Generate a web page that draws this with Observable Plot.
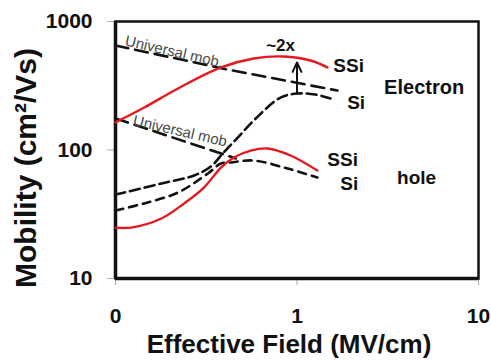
<!DOCTYPE html>
<html><head><meta charset="utf-8">
<script src="https://cdn.jsdelivr.net/npm/d3@7"></script>
<script src="https://cdn.jsdelivr.net/npm/@observablehq/plot@0.6"></script>
<style>
body{margin:0;background:#fff}
#chart svg{font-family:"Liberation Sans",Arial,sans-serif;background:#fff}
</style>
</head><body><div id="chart"></div>
<script>
// axis ticks
const xTicks = [0.1, 1, 10];
const xTickLabels = ["0", "1", "10"];
const yTicks = [10, 100, 1000];
const yTickLabels = ["10", "100", "1000"];

// Electron – universal mobility (dashed)
const eUnivField = [0.1, 0.406, 1.67];
const eUnivMob = [651, 425, 290];
// Electron – strained Si (red)
const eSSiField = [0.1, 0.144, 0.221, 0.381, 0.578, 0.843, 1.186, 1.47];
const eSSiMob = [164, 214, 301, 439, 515, 534, 497, 439];
// Electron – Si (dash)
const eSiField = [0.1, 0.112, 0.179, 0.271, 0.336, 0.39, 0.472, 0.593, 0.812, 1.006, 1.26, 1.53];
const eSiMob = [45, 46.7, 54.9, 63.3, 74.5, 94, 125, 176, 256, 275, 270, 252];
// Hole – universal mobility (dashed)
const hUnivField = [0.1, 0.46];
const hUnivMob = [176, 86];
// Hole – strained Si (red)
const hSSiField = [0.1, 0.122, 0.179, 0.239, 0.307, 0.381, 0.449, 0.556, 0.689, 0.921, 1.295];
const hSSiMob = [24.9, 24.9, 29.3, 38.4, 51, 73, 87.5, 99, 102.8, 90.6, 69.2];
// Hole – Si (dash)
const hSiField = [0.1, 0.144, 0.221, 0.323, 0.381, 0.432, 0.578, 0.887, 1.295];
const hSiMob = [33.8, 38.4, 46.7, 65.7, 78.5, 80, 82.8, 71.8, 61.1];

// ~2x arrow
const arrowField = [1.0];
const arrowFrom = [275];
const arrowTo = [480];

// annotations
const labelText = ["SSi", "Si", "Electron", "SSi", "Si", "hole"];
const labelField = [1.585, 1.89, 3.02, 1.47, 1.73, 3.56];
const labelMob = [450, 234, 306, 83.6, 54.3, 61];
const univText = ["Universal mob.", "Universal mob."];
const univField = [0.1134, 0.1255];
const univMob = [711, 170];
const twoXText = ["~2x"];
const twoXField = [0.812];
const twoXMob = [650];

const pts = (xs, ys) => xs.map((x, i) => ({x, y: ys[i]}));
const xLab = new Map(xTicks.map((t, i) => [t, xTickLabels[i]]));
const yLab = new Map(yTicks.map((t, i) => [t, yTickLabels[i]]));
const RED = "#e3191f";

const chart = Plot.plot({
  width: 491,
  height: 362,
  marginLeft: 115,
  marginRight: 13,
  marginTop: 21,
  marginBottom: 84,
  x: {type: "log", domain: [0.1, 10]},
  y: {type: "log", domain: [10, 1000]},
  marks: [
    Plot.axisX({ticks: xTicks, tickFormat: d => xLab.get(d), tickSize: 7, tickPadding: 23,
      stroke: "#aaa", fill: "#111", fontSize: 21, fontWeight: "bold", label: null}),
    Plot.axisY({ticks: yTicks, tickFormat: d => yLab.get(d), tickSize: 8, tickPadding: 15,
      stroke: "#aaa", fill: "#111", fontSize: 21, fontWeight: "bold", label: null}),
    Plot.frame({stroke: "#111", strokeWidth: 2.5}),
    Plot.ruleX([0.1], {stroke: "#111", strokeWidth: 3.5}),
    Plot.ruleY([10], {stroke: "#111", strokeWidth: 3.5}),
    Plot.line(pts(eUnivField, eUnivMob), {x: "x", y: "y", stroke: "#111", strokeWidth: 2.6, strokeDasharray: "13,7"}),
    Plot.line(pts(hUnivField, hUnivMob), {x: "x", y: "y", stroke: "#111", strokeWidth: 2.6, strokeDasharray: "13,7"}),
    Plot.line(pts(eSiField, eSiMob), {x: "x", y: "y", stroke: "#111", strokeWidth: 2.6, strokeDasharray: "10,5", curve: "catmull-rom"}),
    Plot.line(pts(hSiField, hSiMob), {x: "x", y: "y", stroke: "#111", strokeWidth: 2.6, strokeDasharray: "8,6", curve: "catmull-rom"}),
    Plot.line(pts(eSSiField, eSSiMob), {x: "x", y: "y", stroke: RED, strokeWidth: 2.4, curve: "catmull-rom"}),
    Plot.line(pts(hSSiField, hSSiMob), {x: "x", y: "y", stroke: RED, strokeWidth: 2.4, curve: "catmull-rom"}),
    Plot.arrow(arrowField.map((x, i) => ({x, y1: arrowFrom[i], y2: arrowTo[i]})),
      {x1: "x", x2: "x", y1: "y1", y2: "y2", stroke: "#111", strokeWidth: 2, headLength: 9, headAngle: 50}),
    Plot.text(twoXText, {x: (d, i) => twoXField[i], y: (d, i) => twoXMob[i], text: d => d,
      fontSize: 17, fontWeight: "bold", fill: "#111"}),
    Plot.text(labelText, {x: (d, i) => labelField[i], y: (d, i) => labelMob[i], text: d => d,
      textAnchor: "start", fontSize: (d, i) => i === 2 ? 20 : 19, fontWeight: "bold", fill: "#111"}),
    Plot.text(univText, {x: (d, i) => univField[i], y: (d, i) => univMob[i], text: d => d,
      textAnchor: "start", fontSize: 15, fill: "#4a4a4a", rotate: 13}),
    Plot.text(["Effective Field (MV/cm)"], {frameAnchor: "bottom", textAnchor: "middle", lineAnchor: "middle",
      dx: -8, dy: 66, text: d => d, fontSize: 26, fontWeight: "bold", fill: "#111"}),
    Plot.text(["Mobility (cm²/Vs)"], {frameAnchor: "left", textAnchor: "middle", lineAnchor: "middle",
      dx: -89, dy: 18, rotate: -90, text: d => d, fontSize: 30, fontWeight: "bold", fill: "#111"})
  ]
});
document.getElementById("chart").append(chart);
</script>
</body></html>
